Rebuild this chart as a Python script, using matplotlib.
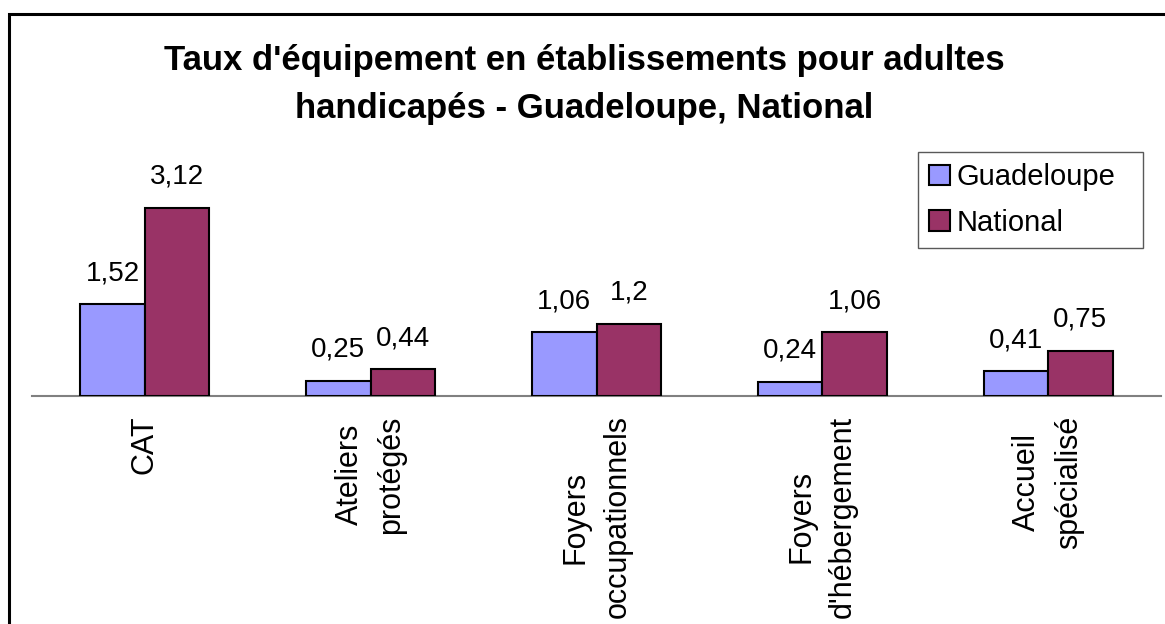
import matplotlib
matplotlib.use("Agg")
import matplotlib.pyplot as plt
import matplotlib.patches as mpatches
import numpy as np

plt.rcParams['font.family'] = ['Liberation Sans', 'DejaVu Sans']

categories = ["CAT", "Ateliers\nprotégés", "Foyers\noccupationnels",
              "Foyers\nd'hébergement", "Accueil\nspécialisé"]
guadeloupe = [1.52, 0.25, 1.06, 0.24, 0.41]
national = [3.12, 0.44, 1.2, 1.06, 0.75]
guadeloupe_labels = ["1,52", "0,25", "1,06", "0,24", "0,41"]
national_labels = ["3,12", "0,44", "1,2", "1,06", "0,75"]
series_names = ["Guadeloupe", "National"]
title_lines = ["Taux d'équipement en établissements pour adultes",
               "handicapés - Guadeloupe, National"]

W, H = 1165, 624
fig = plt.figure(figsize=(W / 100, H / 100), dpi=100)
fig.patch.set_facecolor("white")

ax = fig.add_axes([32 / W, (H - 396) / H, 1129 / W, 246 / H])
ax.set_facecolor("none")

x = np.arange(len(categories))
bw = 0.286
c_g = "#9999FF"
c_n = "#993366"
b1 = ax.bar(x - bw / 2, guadeloupe, bw, color=c_g, edgecolor="black",
            linewidth=1.5, label=series_names[0], zorder=3)
b2 = ax.bar(x + bw / 2, national, bw, color=c_n, edgecolor="black",
            linewidth=1.5, label=series_names[1], zorder=3)

for bars, labs in ((b1, guadeloupe_labels), (b2, national_labels)):
    for rect, lab in zip(bars, labs):
        ax.annotate(lab, (rect.get_x() + rect.get_width() / 2, rect.get_height()),
                    xytext=(0, 17.3), textcoords="offset points",
                    ha="center", va="baseline", fontsize=20, color="black")

ax.set_xlim(-0.5, 4.5)
ax.set_ylim(0, 246 / 60.3)
ax.set_yticks([])
ax.set_xticks(x)
ax.set_xticklabels(categories, rotation=90, fontsize=22, ha="center", va="top",
                   linespacing=1.5)
ax.tick_params(axis="x", length=0, pad=14)
for s in ("top", "right", "left"):
    ax.spines[s].set_visible(False)
ax.spines["bottom"].set_color("#808080")
ax.spines["bottom"].set_linewidth(1.5)
ax.spines["bottom"].set_zorder(2)

leg = ax.legend(loc="upper left",
                bbox_to_anchor=(918 / W, (H - 247) / H, 225 / W, 95 / H),
                bbox_transform=fig.transFigure, mode="expand",
                fontsize=21, frameon=True, fancybox=False,
                handlelength=0.7, handleheight=0.7, handletextpad=0.25,
                labelspacing=0.6, borderpad=0.38, borderaxespad=0)
leg.get_frame().set_edgecolor("#303030")
leg.get_frame().set_linewidth(1.0)

fig.text(584 / W, 1 - 70 / H, title_lines[0], ha="center", va="baseline",
         fontsize=25, fontweight="bold")
fig.text(584 / W, 1 - 118 / H, title_lines[1], ha="center", va="baseline",
         fontsize=25, fontweight="bold")

border = mpatches.Rectangle((9 / W, -0.2), 1.2, 1.2 - 14 / H,
                            transform=fig.transFigure, fill=False,
                            edgecolor="black", linewidth=2.2, clip_on=False)
fig.add_artist(border)

fig.savefig("out.png", dpi=100)
